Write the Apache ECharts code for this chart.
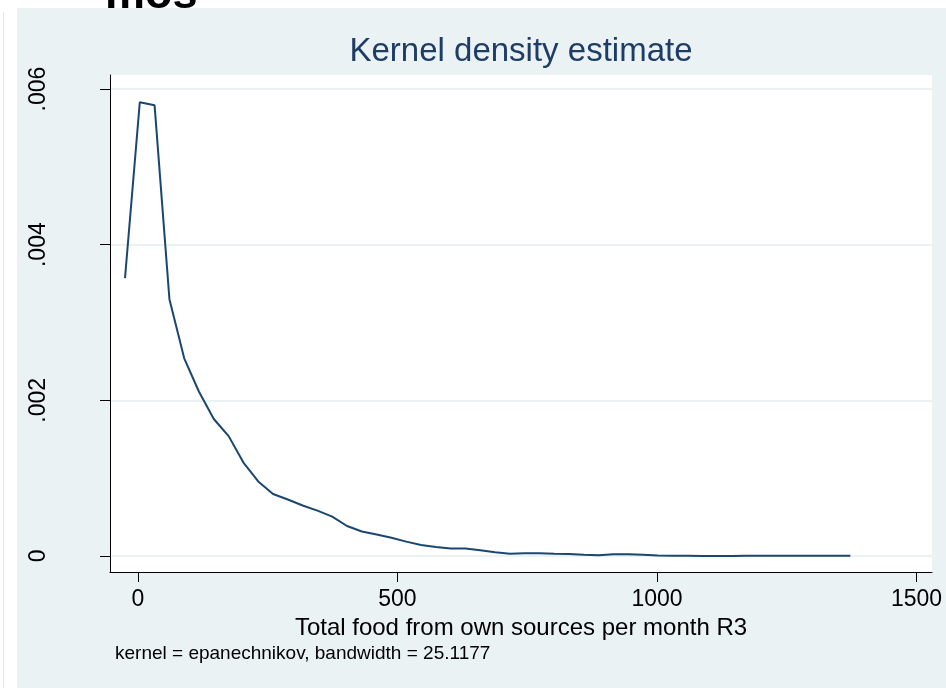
<!DOCTYPE html>
<html>
<head>
<meta charset="utf-8">
<title>Kernel density estimate</title>
<style>
  html, body { margin: 0; padding: 0; background: #fff; }
  #main { width: 946px; height: 688px; }
</style>
<script src="https://cdn.jsdelivr.net/npm/echarts@6/dist/echarts.min.js"></script>
</head>
<body>
<div id="main"></div>
<script>
// kdensity evaluation points (50 of them) and the estimated density
const gridX = [
  -25.0, 3.5, 32.0, 60.6, 89.1, 117.6, 146.1, 174.7, 203.2, 231.7,
  260.2, 288.7, 317.3, 345.8, 374.3, 402.8, 431.4, 459.9, 488.4, 516.9,
  545.4, 574.0, 602.5, 631.0, 659.5, 688.1, 716.6, 745.1, 773.6, 802.1,
  830.7, 859.2, 887.7, 916.2, 944.8, 973.3, 1001.8, 1030.3, 1058.8, 1087.4,
  1115.9, 1144.4, 1172.9, 1201.5, 1230.0, 1258.5, 1287.0, 1315.5, 1344.1, 1372.6
];
const density = [
  0.00357, 0.00583, 0.00579, 0.00330, 0.00254, 0.00211, 0.00176, 0.00154, 0.00120, 0.000957,
  0.000797, 0.000726, 0.000649, 0.000582, 0.000505, 0.000385, 0.000315, 0.000276, 0.000235, 0.000184,
  0.000141, 0.000116, 0.000096, 0.000096, 0.000073, 0.000048, 0.000030, 0.000035, 0.000035, 0.000030,
  0.000026, 0.000017, 0.000009, 0.000023, 0.000023, 0.000017, 0.000005, 0.000003, 0.000002, 0.000000,
  0.000000, 0.000001, 0.000002, 0.000002, 0.000002, 0.000002, 0.000002, 0.000002, 0.000002, 0.000002
];
const xTicks = [0, 500, 1000, 1500];
const yTicks = [0, 0.002, 0.004, 0.006];
const yTickLabels = ["0", ".002", ".004", ".006"];

const titleText = "Kernel density estimate";
const xTitle = "Total food from own sources per month R3";
const noteText = "kernel = epanechnikov, bandwidth = 25.1177";

const FONT = "Liberation Sans, Arial, sans-serif";
const BG = "#EAF2F3";
const NAVY = "#1A476F";

const chart = echarts.init(document.getElementById("main"));

function yLabel(v) {
  let best = 0;
  for (let i = 1; i < yTicks.length; i++) {
    if (Math.abs(yTicks[i] - v) < Math.abs(yTicks[best] - v)) best = i;
  }
  return yTickLabels[best];
}

const option = {
  animation: false,
  backgroundColor: "#fff",
  graphic: [
    // clipped heading behind the graph region
    {
      type: "text", z: -20, left: 105, top: -27,
      style: { text: "mos", fill: "#000", font: "bold 45px " + FONT }
    },
    {
      type: "rect", z: -10,
      shape: { x: 17, y: 8, width: 929, height: 680 },
      style: { fill: BG }
    },
    {
      type: "line", z: -10,
      shape: { x1: 3.5, y1: 12, x2: 3.5, y2: 688 },
      style: { stroke: "#E3E9EA", lineWidth: 1 }
    },
    {
      type: "text", z: 5,
      x: 521, y: 52,
      style: {
        text: titleText, fill: "#1E3D66", font: "33px " + FONT,
        align: "center", verticalAlign: "middle"
      }
    },
    {
      type: "text", z: 5,
      x: 115, y: 654,
      style: {
        text: noteText, fill: "#000", font: "19px " + FONT,
        align: "left", verticalAlign: "middle"
      }
    }
  ],
  grid: {
    show: true,
    left: 110, right: 14, top: 75, bottom: 116,
    backgroundColor: "#fff",
    borderWidth: 0,
    containLabel: false
  },
  xAxis: {
    type: "value",
    min: -53.9,
    max: 1529.9,
    name: xTitle,
    nameLocation: "middle",
    nameGap: 38,
    nameTextStyle: { color: "#000", fontSize: 24, fontFamily: FONT },
    axisLine: { show: true, onZero: false, lineStyle: { color: "#000", width: 1 } },
    axisTick: { show: true, length: 10, customValues: xTicks, lineStyle: { color: "#000" } },
    axisLabel: {
      customValues: xTicks, margin: 16, color: "#000", fontSize: 23, fontFamily: FONT,
      formatter: v => String(Math.round(v))
    },
    splitLine: { show: false }
  },
  yAxis: {
    type: "value",
    min: -0.000206,
    max: 0.00618,
    axisLine: { show: true, onZero: false, lineStyle: { color: "#000", width: 1 } },
    axisTick: { show: true, length: 10, customValues: yTicks, lineStyle: { color: "#000" } },
    axisLabel: {
      customValues: yTicks, rotate: 90, margin: 60, color: "#000", fontSize: 23,
      fontFamily: FONT, formatter: yLabel
    },
    splitLine: { show: true, lineStyle: { color: BG, width: 2 } }
  },
  series: [
    {
      type: "line",
      data: gridX.map((x, i) => [x, density[i]]),
      showSymbol: false,
      symbol: "none",
      lineStyle: { color: NAVY, width: 2 },
      z: 3
    }
  ]
};

chart.setOption(option);
</script>
</body>
</html>
